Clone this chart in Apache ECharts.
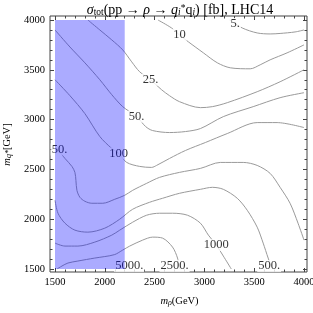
<!DOCTYPE html>
<html><head><meta charset="utf-8">
<script src="https://cdn.jsdelivr.net/npm/echarts@6/dist/echarts.min.js"></script>
<style>html,body{margin:0;padding:0;background:#fff}#c{width:313px;height:313px}</style>
</head><body><div id="c"></div>
<script>
// tick values
const xTicks = [1500, 2000, 2500, 3000, 3500, 4000];
const yTicks = [1500, 2000, 2500, 3000, 3500, 4000];
// shaded (excluded) region
const shadeX = [1500, 2200];
const shadeY = [1500, 4000];
// contour lines [m_rho, m_q*]
const c5 = [[3255,4000],[3380,3920],[3530,3870],[3660,3860],[3760,3865],[3910,3880],[4000,3900]];
const c10 = [[2534,4000],[2670,3920],[2750,3850],[2840,3780],[2990,3670],[3130,3570],[3260,3520],[3460,3510],[3560,3550],[3660,3600],[3830,3670],[4000,3750]];
const c25 = [[1830,4000],[1950,3900],[2070,3800],[2180,3700],[2270,3580],[2350,3480],[2460,3400],[2570,3300],[2650,3240],[2750,3180],[2960,3120],[3080,3130],[3230,3170],[3530,3280],[3760,3380],[4000,3500]];
const c50 = [[1500,3900],[1650,3729],[1800,3570],[1950,3400],[2070,3250],[2180,3130],[2320,3030],[2410,2930],[2480,2890],[2650,2870],[2810,2880],[2960,2910],[3190,3030],[3490,3130],[3760,3220],[4000,3270]];
const c100 = [[1500,3400],[1650,3240],[1800,3060],[1950,2830],[2070,2710],[2140,2660],[2220,2570],[2350,2530],[2470,2520],[2520,2540],[2650,2610],[2810,2690],[3010,2770],[3230,2860],[3530,2970],[3730,2970],[4000,2920]];
const c250 = [[1500,2735],[1600,2610],[1670,2530],[1700,2470],[1710,2390],[1720,2290],[1750,2220],[1800,2180],[1870,2160],[1980,2160],[2100,2200],[2200,2240],[2280,2290],[2420,2360],[2550,2420],[2750,2470],[2960,2510],[3160,2570],[3390,2570],[3530,2540],[3660,2460],[3760,2320],[3860,2160],[3940,1960],[4000,1790]];
const c500 = [[1500,2190],[1530,2060],[1600,1960],[1700,1890],[1830,1870],[2000,1910],[2150,2000],[2280,2100],[2450,2170],[2580,2210],[2750,2260],[2960,2300],[3080,2320],[3190,2300],[3330,2210],[3430,2090],[3530,1920],[3590,1760],[3640,1610],[3670,1530],[3690,1500]];
const c1000 = [[1500,1760],[1600,1730],[1730,1730],[1900,1770],[2070,1840],[2150,1890],[2280,1970],[2420,2040],[2550,2060],[2680,2060],[2830,2040],[2960,1960],[3040,1840],[3120,1740],[3190,1630],[3270,1500]];
const c2500 = [[1520,1500],[1570,1530],[1630,1560],[1730,1580],[1900,1610],[2000,1625],[2100,1645],[2180,1690],[2250,1730],[2380,1790],[2480,1820],[2580,1810],[2680,1720],[2730,1610],[2750,1500]];
const contours = [c5, c10, c25, c50, c100, c250, c500, c1000, c2500];
// contour labels
const labelText = ['5.', '10', '25.', '50.', '100', '50.', '5000.', '2500.', '1000', '500.'];
const labelX = [3310, 2750, 2460, 2320, 2140, 1545, 2245, 2700, 3120, 3650];
const labelY = [3960, 3850, 3400, 3030, 2660, 2700, 1530, 1530, 1740, 1530];

const F = 'Liberation Serif';
const chart = echarts.init(document.getElementById('c'), null, {renderer: 'canvas'});

function mkRich(fs, ss) {
  return {
    n: {fontFamily: F, fontSize: fs, color: '#000'},
    it: {fontFamily: F, fontStyle: 'italic', fontSize: fs, color: '#000'},
    sub: {fontFamily: F, fontSize: ss, verticalAlign: 'bottom', color: '#000'},
    isub: {fontFamily: F, fontStyle: 'italic', fontSize: ss, verticalAlign: 'bottom', color: '#000'},
    sup: {fontFamily: F, fontSize: ss, verticalAlign: 'top', color: '#000'}
  };
}

function tickAxis(pos, offset, showLabel, extra) {
  const isX = pos === 'bottom' || pos === 'top';
  const t = isX ? xTicks : yTicks;
  return Object.assign({
    type: 'value', gridIndex: 0, position: pos, offset: offset,
    min: t[0], max: t[t.length - 1], interval: t[1] - t[0],
    axisLine: {show: false},
    axisTick: {show: true, inside: true, length: 4, lineStyle: {color: '#444', width: 1}},
    minorTick: {show: true, splitNumber: 5, length: 2.5, lineStyle: {color: '#444', width: 1}},
    splitLine: {show: false},
    axisLabel: {show: showLabel, fontFamily: F, fontSize: 10.5, color: '#000', margin: 5,
      formatter: v => String(v)}
  }, extra || {});
}

const series = contours.map(c => ({
  type: 'line', xAxisIndex: 0, yAxisIndex: 0, data: c,
  showSymbol: false, symbol: 'none', smooth: 0.3, silent: true,
  lineStyle: {color: '#9a9a9a', width: 1}, z: 2
}));
series.push({
  type: 'scatter', xAxisIndex: 0, yAxisIndex: 0, symbolSize: 0, silent: true, z: 3,
  data: labelText.map((t, i) => [labelX[i], labelY[i], t]),
  label: {show: true, position: 'inside', formatter: p => p.data[2],
    fontFamily: F, fontSize: 12.5, color: '#000', backgroundColor: '#fff', padding: [0, 1], lineHeight: 12}
});
series.push({
  type: 'custom', xAxisIndex: 0, yAxisIndex: 0, silent: true, z: 10,
  data: [[shadeX[0], shadeX[1], shadeY[0], shadeY[1]]],
  renderItem: (params, api) => {
    const a = api.coord([api.value(0), api.value(3)]);
    const b = api.coord([api.value(1), api.value(2)]);
    return {type: 'rect', shape: {x: a[0], y: a[1], width: b[0] - a[0], height: b[1] - a[1]},
      style: {fill: 'rgba(0,0,255,0.33)'}};
  }
});

chart.setOption({
  animation: false,
  backgroundColor: '#fff',
  title: {
    text: '{it|σ}{sub|tot}{n|(pp → }{it|ρ}{n| → }{it|q}{isub|i}{sup|*}{n|q}{isub|i}{n|) [fb], LHC14}',
    left: 175, textAlign: 'center', top: -2,
    textStyle: {fontFamily: F, fontSize: 14, fontWeight: 'normal', color: '#000', rich: mkRich(14, 9.5)}
  },
  grid: [
    {left: 55, right: 9, top: 20, bottom: 44, outerBoundsMode: 'none', containLabel: false},
    {left: 50, right: 6, top: 16, bottom: 41, outerBoundsMode: 'none', containLabel: false,
      show: true, borderColor: '#444', borderWidth: 1, backgroundColor: 'transparent'}
  ],
  xAxis: [
    tickAxis('bottom', 3, true, {
      name: '{it|m}{isub|ρ}{n|(GeV)}', nameLocation: 'middle', nameGap: 24,
      nameTextStyle: {fontFamily: F, fontSize: 10.5, color: '#000', rich: mkRich(10.5, 8)}
    }),
    tickAxis('top', 4, false),
    {type: 'value', gridIndex: 1, show: false, min: 0, max: 1}
  ],
  yAxis: [
    tickAxis('left', 5, true, {
      name: '{it|m}{isub|q*}{n|[GeV]}', nameLocation: 'middle', nameGap: 36, nameRotate: 90,
      nameTextStyle: {fontFamily: F, fontSize: 10.5, color: '#000', rich: mkRich(10.5, 8)}
    }),
    tickAxis('right', 3, false),
    {type: 'value', gridIndex: 1, show: false, min: 0, max: 1}
  ],
  series: series
});
</script>
</body></html>
